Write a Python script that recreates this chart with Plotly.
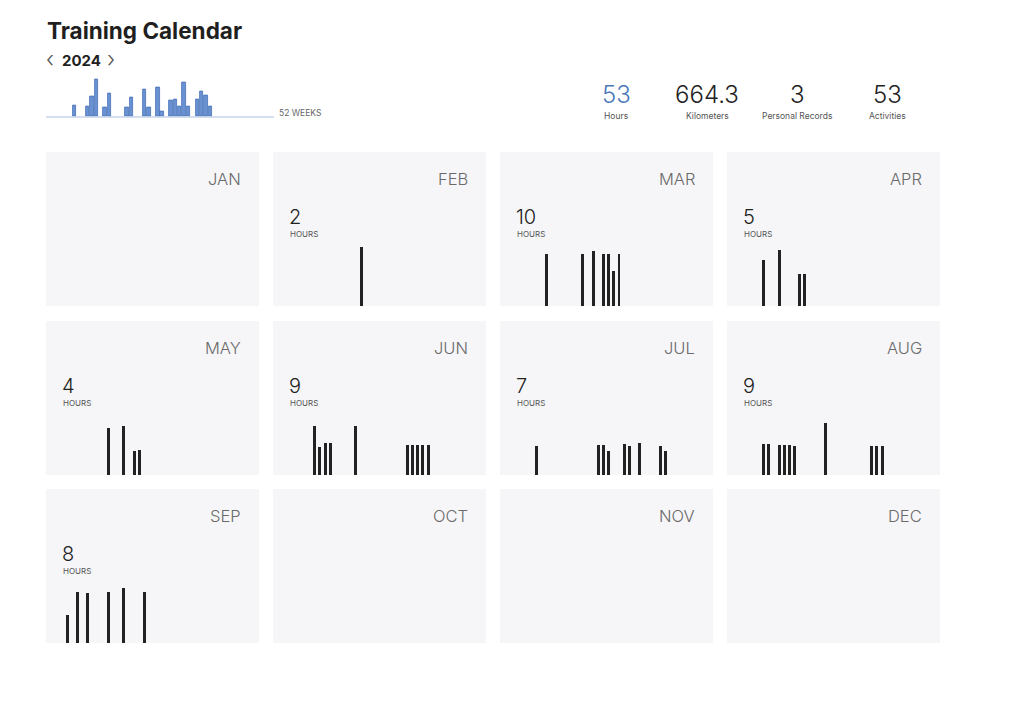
import plotly.graph_objects as go

W, H = 1024, 707

# ---------------- data ----------------
months = ["JAN", "FEB", "MAR", "APR", "MAY", "JUN", "JUL", "AUG", "SEP", "OCT", "NOV", "DEC"]
month_hours_label = [None, 2, 10, 5, 4, 9, 7, 9, 8, None, None, None]

feb_days = [15]
feb_hours = [1.74]
mar_days = [7, 14, 16, 18, 19, 20, 21]
mar_hours = [1.52, 1.53, 1.62, 1.53, 1.53, 1.03, 1.53]
apr_days = [5, 8, 12, 13]
apr_hours = [1.36, 1.65, 0.93, 0.93]
may_days = [10, 13, 15, 16]
may_hours = [1.39, 1.43, 0.71, 0.74]
jun_days = [6, 7, 8, 9, 14, 24, 25, 26, 27, 28]
jun_hours = [1.45, 0.82, 0.93, 0.93, 1.43, 0.89, 0.89, 0.89, 0.89, 0.89]
jul_days = [5, 17, 18, 19, 22, 23, 25, 29, 30]
jul_hours = [0.85, 0.87, 0.87, 0.71, 0.90, 0.84, 0.93, 0.86, 0.71]
aug_days = [5, 6, 8, 9, 10, 11, 17, 26, 27, 28]
aug_hours = [0.91, 0.91, 0.89, 0.89, 0.89, 0.85, 1.54, 0.85, 0.85, 0.85]
sep_days = [2, 4, 6, 10, 13, 17]
sep_hours = [0.82, 1.51, 1.46, 1.51, 1.62, 1.51]

month_days = [[], feb_days, mar_days, apr_days, may_days, jun_days,
              jul_days, aug_days, sep_days, [], [], []]
month_vals = [[], feb_hours, mar_hours, apr_hours, may_hours, jun_hours,
              jul_hours, aug_hours, sep_hours, [], [], []]

week_index = [6, 9, 10, 11, 13, 14, 18, 19, 22, 23, 25, 26, 28, 29, 30, 31, 32, 34, 35, 36, 37]
week_hours = [1.59, 1.41, 2.90, 5.36, 1.30, 3.33, 1.30, 2.71, 3.87, 1.30, 4.20, 0.77,
              2.28, 2.42, 1.41, 4.93, 1.41, 2.42, 3.67, 3.04, 1.41]

stat_values = ["53", "664.3", "3", "53"]
stat_labels = ["Hours", "Kilometers", "Personal Records", "Activities"]

# ---------------- helpers ----------------
def fx(px):
    return px / W

def fy(py):
    return 1 - py / H

FONT = "Inter, Roboto, Arial, sans-serif"
fig = go.Figure()
layout = dict(
    width=W, height=H, margin=dict(l=0, r=0, t=0, b=0),
    paper_bgcolor="white", plot_bgcolor="rgba(0,0,0,0)",
    showlegend=False, bargap=0, shapes=[], annotations=[],
    font=dict(family=FONT),
)

def ann(text, x, y, size, color, xanchor="left", weight=None, family=FONT):
    f = dict(size=size, color=color, family=family)
    if weight:
        f["weight"] = weight
    layout["annotations"].append(dict(
        text=text, x=fx(x), y=fy(y), xref="paper", yref="paper",
        xanchor=xanchor, yanchor="middle", showarrow=False, font=f))

# ---------------- header ----------------
ann("Training Calendar", 45, 30, 22.5, "#1f1f1f", weight=700)
ann("‹", 44, 59, 22, "#555555", weight=300)
ann("2024", 60, 61, 15, "#1f1f1f", weight=700)
ann("›", 105, 59, 22, "#555555", weight=300)
ann("52 WEEKS", 277, 113, 8.5, "#666666")

# sparkline
fig.add_trace(go.Bar(x=week_index, y=week_hours, width=0.8,
                     marker=dict(color="#6a92d3", line=dict(color="#4570b5", width=0.8)),
                     xaxis="x", yaxis="y", hoverinfo="skip"))
sp_left, sp_right, sp_base, sp_top = 46, 274, 116.5, 76.5
layout["xaxis"] = dict(domain=[fx(sp_left), fx(sp_right)], range=[-0.5, 51.5],
                       visible=False, fixedrange=True, anchor="y")
layout["yaxis"] = dict(domain=[fy(sp_base), fy(sp_top)], range=[0, (sp_base - sp_top) / 6.9],
                       visible=False, fixedrange=True, anchor="x")
layout["shapes"].append(dict(type="line", xref="paper", yref="paper",
                             x0=fx(sp_left), x1=fx(sp_right), y0=fy(117), y1=fy(117),
                             line=dict(color="#a8bede", width=1.2)))

# stats
stat_x = [616, 707, 797, 887]
for i, (v, l) in enumerate(zip(stat_values, stat_labels)):
    ann(v, stat_x[i], 94, 24, "#4a78bb" if i == 0 else "#222222", xanchor="center", weight=300)
    ann(l, stat_x[i], 116, 8.5, "#555555", xanchor="center")

# ---------------- month panels ----------------
col_left = [46, 273, 500, 727]
row_top = [152, 321, 489]
PW, PH = 213, 154
DAY_W = 5.15
PX_PER_H = 34.0

for m in range(12):
    r, c = divmod(m, 4)
    L, T = col_left[c], row_top[r]
    layout["shapes"].append(dict(type="rect", xref="paper", yref="paper",
                                 x0=fx(L), x1=fx(L + PW), y0=fy(T + PH), y1=fy(T),
                                 fillcolor="#f6f6f8", line=dict(width=0), layer="below"))
    ann(months[m], L + PW - 16, T + 27, 16.5, "#6a6a6a", xanchor="right", weight=300)
    if month_hours_label[m] is not None:
        ann(str(month_hours_label[m]), L + 14, T + 65, 20, "#222222", weight=300)
        ann("HOURS", L + 15, T + 82, 8, "#555555")
    if month_days[m]:
        k = m + 2
        xa, ya = f"x{k}", f"y{k}"
        fig.add_trace(go.Bar(x=month_days[m], y=month_vals[m], width=0.58,
                             marker=dict(color="#222222", line=dict(width=0)),
                             xaxis=xa, yaxis=ya, hoverinfo="skip"))
        layout[f"xaxis{k}"] = dict(domain=[fx(L), fx(L + PW)],
                                   range=[1 - 16 / DAY_W, 1 + (PW - 16) / DAY_W],
                                   visible=False, fixedrange=True, anchor=ya)
        layout[f"yaxis{k}"] = dict(domain=[fy(T + PH), fy(T)], range=[0, PH / PX_PER_H],
                                   visible=False, fixedrange=True, anchor=xa)

fig.update_layout(**layout)
fig.write_html("out.html", config={"displayModeBar": False})
